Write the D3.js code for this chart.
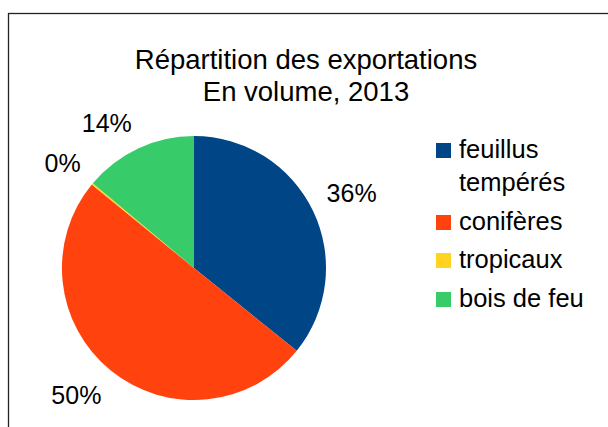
<!DOCTYPE html>
<html>
<head>
<meta charset="utf-8">
<script src="https://d3js.org/d3.v7.min.js"></script>
<style>
body { margin: 0; background: #fff; }
text { font-family: "Liberation Sans", Arial, sans-serif; fill: #000; }
</style>
</head>
<body>
<div id="chart"></div>
<script>
// data
var categories = ["feuillus tempérés", "conifères", "tropicaux", "bois de feu"];
var legendLines = [["feuillus", "tempérés"], ["conifères"], ["tropicaux"], ["bois de feu"]];
var shares = [35.8, 50.1, 0.2, 13.9];
var colors = ["#004586", "#ff420e", "#ffd320", "#37cb69"];
var titleLines = ["Répartition des exportations", "En volume, 2013"];

var width = 608, height = 427;
var cx = 194, cy = 268, radius = 132, labelRadius = 147;

var svg = d3.select("#chart").append("svg")
  .attr("width", width)
  .attr("height", height);

// outer frame (runs off the right and bottom of the picture)
svg.append("rect")
  .attr("x", 8.5).attr("y", 13.5)
  .attr("width", 700).attr("height", 500)
  .attr("fill", "none")
  .attr("stroke", "#222")
  .attr("stroke-width", 1.3);

// title
svg.append("text")
  .attr("text-anchor", "middle")
  .attr("font-size", 27.5)
  .selectAll("tspan")
  .data(titleLines)
  .join("tspan")
    .attr("x", 306)
    .attr("y", (d, i) => 69 + i * 32)
    .text(d => d);

var data = categories.map((c, i) => ({name: c, value: shares[i], color: colors[i]}));

var pie = d3.pie().sort(null).value(d => d.value);
var arcs = pie(data);
var arc = d3.arc().innerRadius(0).outerRadius(radius);

var g = svg.append("g").attr("transform", "translate(" + cx + "," + cy + ")");

g.selectAll("path")
  .data(arcs)
  .join("path")
    .attr("d", arc)
    .attr("fill", d => d.data.color);

// percentage labels, placed outside the pie
var fmt = d3.format(".0%");
g.selectAll("text.pct")
  .data(arcs)
  .join("text")
    .attr("class", "pct")
    .attr("font-size", 25)
    .each(function(d) {
      var a = (d.startAngle + d.endAngle) / 2;
      var x = labelRadius * Math.sin(a), y = -labelRadius * Math.cos(a);
      d3.select(this)
        .attr("x", x)
        .attr("y", y)
        .attr("dy", y < 0 ? "-0.1em" : "0.86em")
        .attr("text-anchor", x >= 0 ? "start" : "end");
    })
    .text(d => fmt(Math.round(d.data.value) / 100));

// legend
var legendTops = [158, 230, 268, 307];
var legend = svg.append("g");
var items = legend.selectAll("g")
  .data(data)
  .join("g")
    .attr("transform", (d, i) => "translate(436," + legendTops[i] + ")");

items.append("rect")
  .attr("x", 0).attr("y", -15)
  .attr("width", 15).attr("height", 15)
  .attr("fill", d => d.color);

items.append("text")
  .attr("font-size", 25.5)
  .selectAll("tspan")
  .data((d, i) => legendLines[i])
  .join("tspan")
    .attr("x", 23)
    .attr("y", (d, j) => j * 33)
    .text(d => d);
</script>
</body>
</html>
